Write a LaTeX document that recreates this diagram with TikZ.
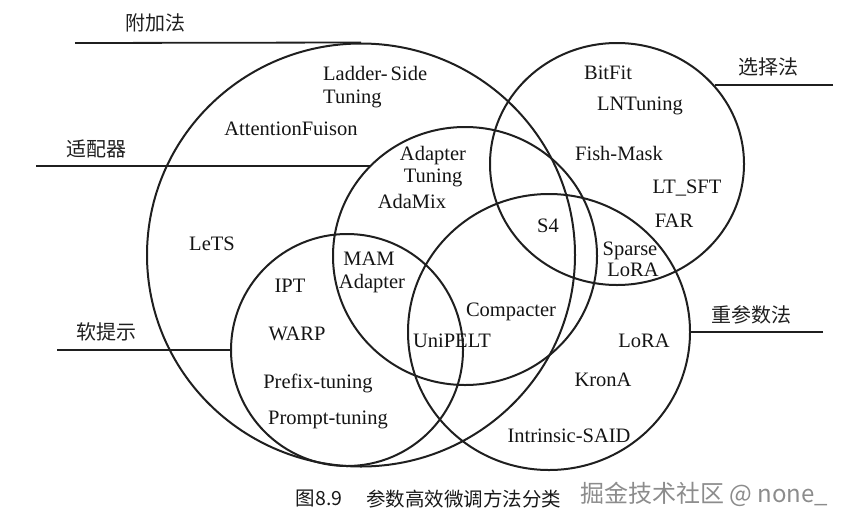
\documentclass[tikz,border=0pt]{standalone}
\usepackage{fontspec}
\setmainfont{Liberation Serif}
\newfontfamily\cjk{Noto Sans CJK SC}
\usetikzlibrary{shapes.geometric}
\begin{document}
\begin{tikzpicture}[x=1pt,y=-1pt,
  ring/.style={ellipse, draw=black!88, line width=2pt, inner sep=0pt},
  lead/.style={draw=black!88, line width=1.8pt},
  lab/.style={font=\fontsize{20.5}{23}\selectfont, inner sep=0pt, anchor=base, text=black!92},
  cat/.style={font=\cjk\fontsize{20}{22}\selectfont, inner sep=0pt, text=black!88},
  captxt/.style={font=\cjk\fontsize{19.5}{21}\selectfont, inner sep=0pt, text=black!90},
]
\useasboundingbox (0,0) rectangle (858,525);
% circles
\node[ring, minimum width=428pt, minimum height=423pt] (add) at (361,255) {};
\node[ring, minimum width=254pt, minimum height=242pt] (sel) at (617,164) {};
\node[ring, minimum width=264pt, minimum height=258pt] (ada) at (465,256) {};
\node[ring, minimum width=282pt, minimum height=276pt] (rep) at (549,332) {};
\node[ring, minimum width=232pt, minimum height=232pt] (soft) at (347,350) {};
% leader lines
\coordinate (addend) at (75,43);
\coordinate (adaend) at (36,166);
\coordinate (softend) at (57,350);
\coordinate (selend) at (833,85);
\coordinate (repend) at (823,332);
\draw[lead] (addend) -- (add.north);
\draw[lead] (adaend) -- (adaend -| ada.136.5);
\draw[lead] (softend) -- (soft.west);
\draw[lead] (selend) -- (selend -| sel.39.5);
\draw[lead] (repend) -- (rep.east);
% category labels
\node[cat] (taddl) at (155,23) {附加法};
\node[cat] (tadal) at (96,149) {适配器};
\node[cat] (tsoftl) at (106,332) {软提示};
\node[cat] (tsell) at (768,67) {选择法};
\node[cat] (trepl) at (751,315) {重参数法};
% methods
\node[lab, anchor=base west] (ladder1) at (323,80) {Ladder-\hspace{3pt}Side};
\node[lab, anchor=base west] (ladder2) at (323,103) {Tuning};
\node[lab] (attn) at (291,135) {AttentionFuison};
\node[lab] (adapt1) at (433,160) {Adapter};
\node[lab] (adapt2) at (433,182) {Tuning};
\node[lab] (adamix) at (412,208) {AdaMix};
\node[lab] (lets) at (212,250) {LeTS};
\node[lab] (mam1) at (369,265) {MAM};
\node[lab] (mam2) at (372,288) {Adapter};
\node[lab] (ipt) at (290,292) {IPT};
\node[lab] (warp) at (297,340) {WARP};
\node[lab] (prefix) at (318,388) {Prefix-tuning};
\node[lab] (prompt) at (328,424) {Prompt-tuning};
\node[lab] (unipelt) at (452,347) {UniPELT};
\node[lab] (compacter) at (511,316) {Compacter};
\node[lab] (s4) at (548,232) {S4};
\node[lab] (sparse1) at (630,255) {Sparse};
\node[lab] (sparse2) at (633,276) {LoRA};
\node[lab] (bitfit) at (608,79) {BitFit};
\node[lab] (lntuning) at (640,110) {LNTuning};
\node[lab] (fishmask) at (619,160) {Fish-Mask};
\node[lab] (ltsft) at (687,193) {LT\_SFT};
\node[lab] (far) at (674,227) {FAR};
\node[lab] (lora) at (644,347) {LoRA};
\node[lab] (krona) at (603,386) {KronA};
\node[lab] (intrinsic) at (569,442) {Intrinsic-SAID};
% caption
\node[captxt] (capnum) at (319,499) {图8.9};
\node[captxt, anchor=west] (captext) at (366,499) {参数高效微调方法分类};
\node[font=\cjk\fontsize{24}{26}\selectfont, inner sep=0pt, text=black!45, anchor=west] (wm) at (580,494) {掘金技术社区 @ none\_};
\end{tikzpicture}
\end{document}
